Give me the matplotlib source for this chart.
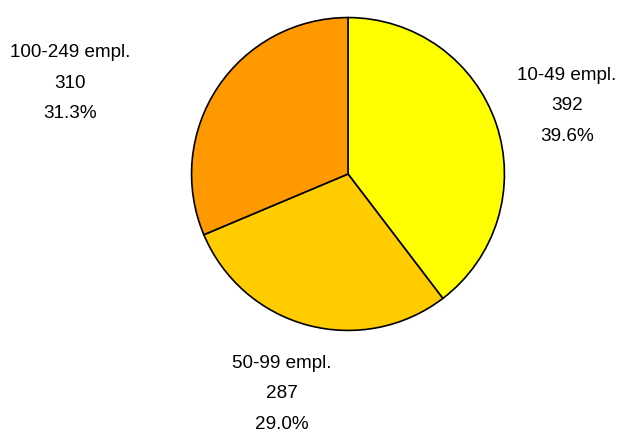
import matplotlib
matplotlib.use("Agg")
import matplotlib.pyplot as plt

categories = ["10-49 empl.", "50-99 empl.", "100-249 empl."]
values = [392, 287, 310]
colors = ["#FFFF00", "#FFCC00", "#FF9900"]

W, H = 632, 435
fig = plt.figure(figsize=(W / 100, H / 100), dpi=100)
cx, cy, r = 348, 175, 158
ax = fig.add_axes([(cx - r) / W, (H - cy - r) / H, 2 * r / W, 2 * r / H])
wedges, _ = ax.pie(values, colors=colors, startangle=90, counterclock=False,
                   wedgeprops=dict(edgecolor="black", linewidth=1.2))
ax.set_xlim(-1.01, 1.01)
ax.set_ylim(-1.01, 1.01)

total = sum(values)
label_pos = [(567, 106), (282, 394), (70, 83)]
for name, v, (px, py) in zip(categories, values, label_pos):
    txt = f"{name}\n{v}\n{100 * v / total:.1f}%"
    fig.text(px / W, 1 - py / H, txt, ha="center", va="center",
             fontsize=13.6, family="Liberation Sans", linespacing=2.05)

fig.savefig("out.png", dpi=100)
